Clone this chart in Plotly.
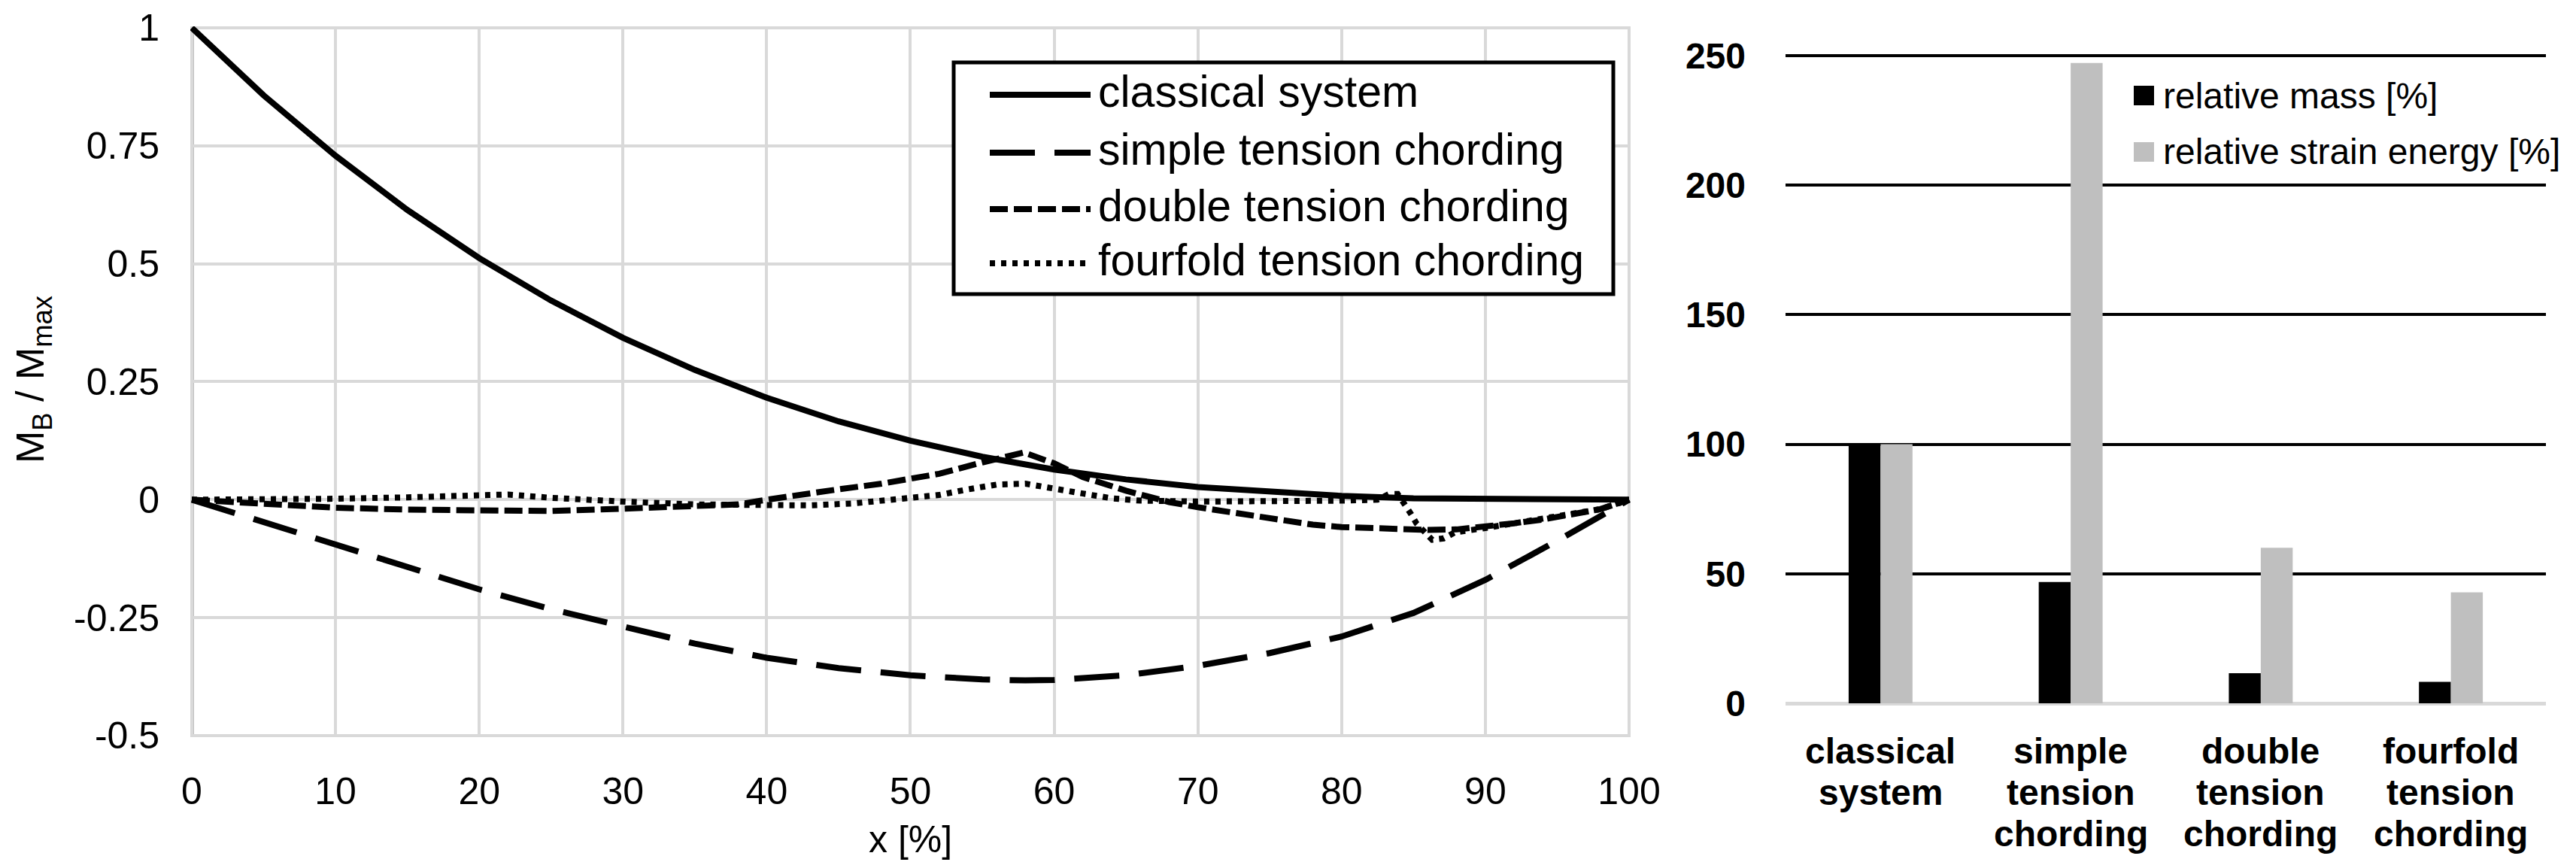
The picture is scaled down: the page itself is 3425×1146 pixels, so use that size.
import plotly.graph_objects as go

W, H = 3425, 1146

# ---------------- data: bending moment distributions ----------------
cls_x = [0, 5, 10, 15, 20, 25, 30, 35, 40, 45, 50, 55, 60, 65, 70, 75, 80, 85, 90, 95, 100]
cls_y = [1.0, 0.857, 0.729, 0.614, 0.512, 0.422, 0.343, 0.275, 0.216, 0.166, 0.125,
         0.091, 0.064, 0.043, 0.027, 0.016, 0.008, 0.003, 0.001, 0.0, 0.0]

simple_x = [0, 5, 10, 15, 20, 25, 30, 35, 40, 45, 50, 55, 58, 60, 65, 70, 75, 80, 85, 90, 95, 100]
simple_y = [0.0, -0.048, -0.095, -0.142, -0.19, -0.232, -0.27, -0.305, -0.335, -0.357, -0.372,
            -0.381, -0.383, -0.382, -0.372, -0.352, -0.325, -0.29, -0.24, -0.17, -0.087, 0.0]

double_x = [0, 5, 10, 15, 20, 25, 30, 35, 38, 40, 42, 45, 48, 50, 52, 55, 57.9, 60, 62, 65,
            68, 70, 73, 76, 78, 80, 84, 86, 88, 90, 92, 94, 96, 98, 100]
double_y = [0.0, -0.008, -0.017, -0.021, -0.023, -0.024, -0.019, -0.014, -0.01, 0.0, 0.01,
            0.022, 0.034, 0.043, 0.055, 0.079, 0.10, 0.077, 0.048, 0.019, -0.005, -0.016,
            -0.029, -0.045, -0.053, -0.058, -0.064, -0.064, -0.063, -0.058, -0.05, -0.042,
            -0.031, -0.02, 0.0]

four_x = [0, 5, 10, 15, 20, 22, 25, 28, 30, 35, 40, 43, 46, 48, 50, 52, 54, 56, 58, 60, 62,
          64, 66, 70, 75, 80, 82.5, 83.3, 83.9, 84.4, 84.8, 85.2, 86.3, 87.1, 87.9, 90, 92,
          94, 96, 98, 100]
four_y = [0.0, 0.0, 0.002, 0.005, 0.009, 0.011, 0.004, -0.002, -0.004, -0.01, -0.013, -0.012,
          -0.008, -0.003, 0.003, 0.01, 0.022, 0.032, 0.034, 0.022, 0.013, 0.003, -0.002,
          -0.004, -0.004, -0.002, 0.0, 0.012, 0.012, -0.008, -0.029, -0.05, -0.085, -0.082,
          -0.069, -0.06, -0.05, -0.042, -0.031, -0.02, 0.0]

x_ticks = [0, 10, 20, 30, 40, 50, 60, 70, 80, 90, 100]
y_ticks = [-0.5, -0.25, 0, 0.25, 0.5, 0.75, 1]
y_ticktext = ["-0.5", "-0.25", "0", "0.25", "0.5", "0.75", "1"]

line_names = ["classical system", "simple tension chording",
              "double tension chording", "fourfold tension chording"]

# ---------------- data: bar chart ----------------
bar_cats = ["classical<br>system", "simple<br>tension<br>chording",
            "double<br>tension<br>chording", "fourfold<br>tension<br>chording"]
rel_mass = [100, 46.8, 11.6, 8.3]
rel_strain = [100, 247.2, 60.0, 42.8]
bar_ticks = [0, 50, 100, 150, 200, 250]
bar_names = ["relative mass [%]", "relative strain energy [%]"]

FONT = "Liberation Sans, Arial, sans-serif"
LW = 8
dashes = ["solid", "60px,26px", "24px,8px", "7px,8px"]


def px_x(p):
    return p / W


def px_y(p):
    return 1 - p / H


fig = go.Figure()

for xs, ys, name, d in zip([cls_x, simple_x, double_x, four_x],
                           [cls_y, simple_y, double_y, four_y],
                           line_names, dashes):
    fig.add_trace(go.Scatter(x=xs, y=ys, mode="lines", name=name,
                             line=dict(color="black", width=LW, dash=d),
                             xaxis="x", yaxis="y", showlegend=False))

fig.add_trace(go.Bar(x=bar_cats, y=rel_mass, name=bar_names[0],
                     marker=dict(color="black", line=dict(width=0)),
                     xaxis="x2", yaxis="y2", showlegend=False))
fig.add_trace(go.Bar(x=bar_cats, y=rel_strain, name=bar_names[1],
                     marker=dict(color="#bfbfbf", line=dict(width=0)),
                     xaxis="x2", yaxis="y2", showlegend=False))

# ---------------- custom legends ----------------
shapes = []
annotations = []

# left legend box
shapes.append(dict(type="rect", xref="paper", yref="paper",
                   x0=px_x(1260), x1=px_x(2137), y0=px_y(383), y1=px_y(75),
                   line=dict(color="black", width=5), fillcolor="white", layer="above"))
row_y = [114, 191, 266, 338]
for ry, name, d in zip(row_y, line_names, dashes):
    shapes.append(dict(type="line", xref="paper", yref="paper",
                       x0=px_x(1308), x1=px_x(1442), y0=px_y(ry + 4), y1=px_y(ry + 4),
                       line=dict(color="black", width=LW, dash=d), layer="above"))
    annotations.append(dict(text=name, xref="paper", yref="paper", x=px_x(1450), y=px_y(ry),
                            xanchor="left", yanchor="middle", showarrow=False,
                            font=dict(family=FONT, size=59, color="black")))

# bar legend
for ry, name, col in zip([119, 194], bar_names, ["black", "#bfbfbf"]):
    shapes.append(dict(type="rect", xref="paper", yref="paper",
                       x0=px_x(2829), x1=px_x(2856), y0=px_y(ry + 13), y1=px_y(ry - 13),
                       line=dict(width=0), fillcolor=col, layer="above"))
    annotations.append(dict(text=name, xref="paper", yref="paper", x=px_x(2866), y=px_y(ry),
                            xanchor="left", yanchor="middle", showarrow=False,
                            font=dict(family=FONT, size=48, color="black")))

# bar category labels (one annotation per line for tight line spacing)
for cat in bar_cats:
    for i, part in enumerate(cat.split("<br>")):
        annotations.append(dict(text=part, xref="x2", yref="paper", x=cat,
                                y=px_y(990 + 55 * i), xanchor="center", yanchor="middle",
                                showarrow=False,
                                font=dict(family=FONT, size=48, color="black", weight="bold")))

# axis titles
annotations.append(dict(text="M<sub>B</sub> / M<sub>max</sub>", xref="paper", yref="paper",
                        x=px_x(36), y=px_y(497), xanchor="center", yanchor="middle",
                        textangle=-90, showarrow=False,
                        font=dict(family=FONT, size=52, color="black")))
annotations.append(dict(text="x [%]", xref="paper", yref="paper",
                        x=px_x(1202), y=px_y(1108), xanchor="center", yanchor="middle",
                        showarrow=False, font=dict(family=FONT, size=50, color="black")))

# plot-area pixel geometry
L_LEFT, L_RIGHT, L_TOP, L_BOT = 247, 2158, 29, 970
B_LEFT, B_RIGHT, B_TOP, B_BOT = 2366, 3377, 66, 927

# ranges padded slightly so edge gridlines are kept; domains padded to match
xpad, ypad, bpad = 0.1, 0.003, 0.6
x_px_per = (L_RIGHT - L_LEFT) / 100.0
y_px_per = (L_BOT - L_TOP) / 1.5
b_px_per = (B_BOT - B_TOP) / 250.0

fig.update_layout(
    template="none",
    width=W, height=H,
    margin=dict(l=0, r=0, t=0, b=0),
    paper_bgcolor="white", plot_bgcolor="white",
    font=dict(family=FONT, color="black"),
    showlegend=False,
    barmode="group", bargap=0.664, bargroupgap=0,
    xaxis=dict(domain=[px_x(L_LEFT - xpad * x_px_per), px_x(L_RIGHT + xpad * x_px_per)],
               range=[-xpad, 100 + xpad], anchor="y",
               tickvals=x_ticks, ticks="", showgrid=True, gridcolor="#d9d9d9", gridwidth=4,
               zeroline=False, showline=False, ticklabelstandoff=38,
               ticklabeloverflow="allow",
               tickfont=dict(family=FONT, size=50, color="black")),
    yaxis=dict(domain=[px_y(L_BOT + ypad * y_px_per), px_y(L_TOP - ypad * y_px_per)],
               range=[-0.5 - ypad, 1 + ypad], anchor="x",
               tickvals=y_ticks, ticktext=y_ticktext, ticks="", showgrid=True,
               gridcolor="#d9d9d9", gridwidth=4, zeroline=True, zerolinecolor="#d9d9d9",
               zerolinewidth=4, showline=False, ticklabeloverflow="allow",
               ticklabelstandoff=40, tickfont=dict(family=FONT, size=50, color="black")),
    xaxis2=dict(domain=[px_x(B_LEFT), px_x(B_RIGHT)], anchor="y2", type="category",
                ticks="", showgrid=False, zeroline=False, showline=False,
                showticklabels=False),
    yaxis2=dict(domain=[px_y(B_BOT), px_y(B_TOP - bpad * b_px_per)], range=[0, 250 + bpad],
                anchor="x2",
                tickvals=bar_ticks, ticks="", showgrid=True, gridcolor="black", gridwidth=4,
                zeroline=True, zerolinecolor="#d9d9d9", zerolinewidth=5, showline=False,
                ticklabelstandoff=52, ticklabeloverflow="allow",
                tickfont=dict(family=FONT, size=48, color="black", weight="bold")),
    shapes=shapes,
    annotations=annotations,
)

# left axis line at x = 0 (darker grey), drawn along the axis
fig.add_shape(type="line", xref="x", yref="y", x0=0, x1=0, y0=-0.5, y1=1,
              line=dict(color="#bfbfbf", width=6), layer="below")

fig.write_html("out.html")
